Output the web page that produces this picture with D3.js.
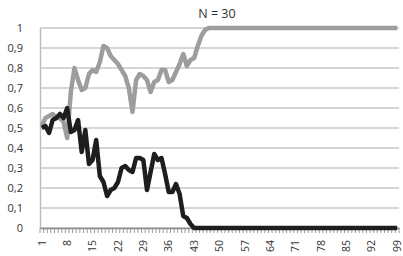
<html>
<head>
	<meta http-equiv="Content-Type" content="text/html; charset=utf-8" />
	<script src="https://cdn.jsdelivr.net/npm/d3@7/dist/d3.min.js" charset="utf-8"></script>

	<style type="text/css">
	body {
	  background-color: white;
	  margin: 0;
	}
	svg text {
	  font-family: "Open Sans", sans-serif;
	  fill: #333;
	}
	</style>
</head>
<body>

	<svg width="403" height="256" version="1.1" xmlns="http://www.w3.org/2000/svg">
	</svg>

	<script type="text/javascript">
		var v_Title      = "N = 30";
		var v_Categories = [ 1, 2, 3, 4, 5, 6, 7, 8, 9,10,11,12,13,14,15,16,17,18,19,20,
		                    21,22,23,24,25,26,27,28,29,30,31,32,33,34,35,36,37,38,39,40,
		                    41,42,43,44,45,46,47,48,49,50,51,52,53,54,55,56,57,58,59,60,
		                    61,62,63,64,65,66,67,68,69,70,71,72,73,74,75,76,77,78,79,80,
		                    81,82,83,84,85,86,87,88,89,90,91,92,93,94,95,96,97,98,99];
		var v_Gray       = [0.51,0.55,0.56,0.57,0.55,0.55,0.53,0.45,0.68,0.80,
		                    0.74,0.69,0.70,0.77,0.79,0.78,0.83,0.91,0.90,0.86,
		                    0.84,0.82,0.79,0.76,0.70,0.58,0.74,0.77,0.76,0.74,
		                    0.68,0.73,0.74,0.79,0.79,0.73,0.74,0.78,0.82,0.87,
		                    0.81,0.84,0.85,0.91,0.96,0.99,1,1,1,1,
		                    1,1,1,1,1,1,1,1,1,1, 1,1,1,1,1,1,1,1,1,1,
		                    1,1,1,1,1,1,1,1,1,1, 1,1,1,1,1,1,1,1,1,1,
		                    1,1,1,1,1,1,1,1,1];
		var v_Black      = [0.50,0.51,0.475,0.54,0.55,0.57,0.55,0.60,0.48,0.49,
		                    0.54,0.38,0.49,0.32,0.34,0.44,0.26,0.23,0.16,0.19,
		                    0.20,0.23,0.30,0.31,0.29,0.28,0.35,0.35,0.34,0.19,
		                    0.28,0.37,0.34,0.35,0.27,0.18,0.18,0.22,0.17,0.06,
		                    0.05,0.02,0,0,0,0,0,0,0,0,
		                    0,0,0,0,0,0,0,0,0,0, 0,0,0,0,0,0,0,0,0,0,
		                    0,0,0,0,0,0,0,0,0,0, 0,0,0,0,0,0,0,0,0,0,
		                    0,0,0,0,0,0,0,0,0];
		var v_TickLabels = [1,8,15,22,29,36,43,50,57,64,71,78,85,92,99];
		var v_YTicks     = [0,0.1,0.2,0.3,0.4,0.5,0.6,0.7,0.8,0.9,1];


		function f_Draw()
		{
			var v_SVG     = d3.select("svg");
			var v_Padding = {top:28 ,right:4 ,bottom:28 ,left:40};
			var v_Width   = 403;
			var v_Height  = 256;
			var v_Bottom  = v_Height - v_Padding.bottom;

			var v_xScale  = d3.scaleBand()
			                  .domain(v_Categories)
			                  .range([v_Padding.left ,v_Width - v_Padding.right]);
			var v_yScale  = d3.scaleLinear()
			                  .domain([0 ,1])
			                  .range([v_Bottom ,v_Padding.top]);

			// 网格线
			v_SVG.append("g")
			     .selectAll("line")
			     .data(v_YTicks)
			     .enter()
			     .append("line")
			     .attr("x1" ,v_Padding.left)
			     .attr("x2" ,v_Width - v_Padding.right)
			     .attr("y1" ,function(d){ return v_yScale(d); })
			     .attr("y2" ,function(d){ return v_yScale(d); })
			     .attr("stroke" ,"#c8c8c8")
			     .attr("stroke-width" ,1.5);

			// y轴
			var v_YAxis = d3.axisLeft(v_yScale)
			                .tickValues(v_YTicks)
			                .tickSize(0)
			                .tickPadding(17)
			                .tickFormat(function(d){ return d3.format(".1~f")(d).replace(".", ","); });
			var v_GY = v_SVG.append("g")
			                .attr("transform" ,"translate(" + v_Padding.left + ",0)")
			                .call(v_YAxis);
			v_GY.select(".domain").attr("stroke" ,"#bdbdbd").attr("stroke-width" ,1.5);
			v_GY.selectAll("text").attr("font-size" ,"11px").attr("fill" ,"#333");

			// x轴小刻度（类别之间）
			var v_Bounds = v_Categories.map(function(d){ return v_xScale(d); });
			v_Bounds.push(v_xScale.range()[1]);
			v_SVG.append("g")
			     .selectAll("line")
			     .data(v_Bounds)
			     .enter()
			     .append("line")
			     .attr("x1" ,function(d){ return d; })
			     .attr("x2" ,function(d){ return d; })
			     .attr("y1" ,v_Bottom)
			     .attr("y2" ,v_Bottom + 5)
			     .attr("stroke" ,"#9a9a9a")
			     .attr("stroke-width" ,1);

			// x轴
			var v_XAxis = d3.axisBottom(v_xScale)
			                .tickValues(v_TickLabels)
			                .tickSize(0);
			var v_GX = v_SVG.append("g")
			                .attr("transform" ,"translate(0," + v_Bottom + ")")
			                .call(v_XAxis);
			v_GX.select(".domain").attr("stroke" ,"#8c8c8c").attr("stroke-width" ,1.5);
			v_GX.selectAll("text")
			    .attr("font-size" ,"10.5px")
			    .attr("fill" ,"#333")
			    .attr("text-anchor" ,"end")
			    .attr("transform" ,"rotate(-90)")
			    .attr("x" ,-12)
			    .attr("y" ,0)
			    .attr("dy" ,"0.35em");

			// 折线
			var v_Line = d3.line()
			               .x(function(d ,i){ return v_xScale(v_Categories[i]) + v_xScale.bandwidth() / 2; })
			               .y(function(d){ return v_yScale(d); });

			v_SVG.append("path")
			     .datum(v_Gray)
			     .attr("d" ,v_Line)
			     .attr("fill" ,"none")
			     .attr("stroke" ,"#9d9d9d")
			     .attr("stroke-width" ,4.5)
			     .attr("stroke-linejoin" ,"round");

			v_SVG.append("path")
			     .datum(v_Black)
			     .attr("d" ,v_Line)
			     .attr("fill" ,"none")
			     .attr("stroke" ,"#1e1e1e")
			     .attr("stroke-width" ,4.5)
			     .attr("stroke-linejoin" ,"round");

			// 标题
			v_SVG.append("text")
			     .attr("x" ,217)
			     .attr("y" ,18)
			     .attr("text-anchor" ,"middle")
			     .attr("font-size" ,"12.5px")
			     .attr("fill" ,"#222")
			     .text(v_Title);
		}


		f_Draw();

	</script>

</body>
</html>
